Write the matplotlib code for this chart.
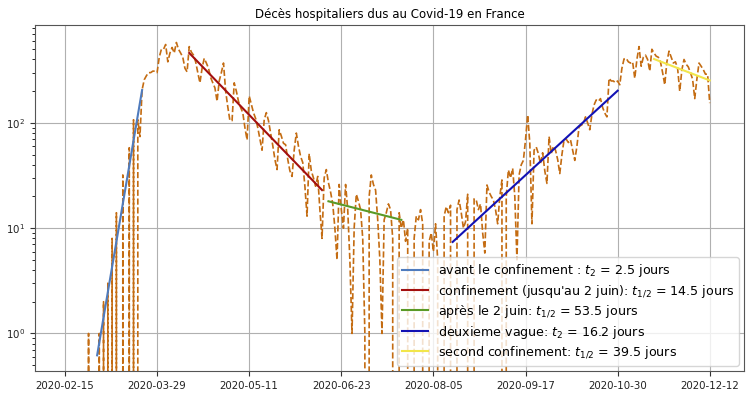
import matplotlib
matplotlib.use("Agg")
import matplotlib.pyplot as plt
import matplotlib.dates as mdates
import numpy as np
import pandas as pd

# ---- data ----
start_date = "2020-02-15"
deaths = [
    0, 0, 0, 0, 0, 0, 0, 0, 0, 0, 0,            # d0-d10
    1, 0, 0, 0, 0, 1, 0, 2, 0, 3,                # d11-d20
    0, 8, 0, 14, 0, 0, 32, 0, 0, 58,             # d21-d30
    0, 107, 0, 107, 74, 206, 257, 280, 300, 300,  # d31-d40
    310, 310, 300, 420, 500, 500, 555, 380, 460, 520,  # d41-d50
    460, 580, 500, 460, 420, 330, 305, 530, 470, 440,  # d51-d60
    380, 300, 240, 330, 410, 370, 330, 270, 240, 215,  # d61-d70
    160, 250, 300, 370, 200, 142, 105, 105, 240, 200,  # d71-d80
    160, 140, 125, 90, 69, 180, 150, 125, 110, 90,     # d81-d90
    70, 55, 107, 125, 105, 80, 61, 45, 36, 86,         # d91-d100
    75, 64, 62, 45, 35, 31, 55, 80, 60, 48,            # d101-d110
    42, 25, 13, 51, 35, 30, 25, 31, 15, 8,             # d111-d120
    30, 36, 27, 22, 17, 10, 5, 26, 15, 10,             # d121-d130
    26, 15, 5, 1, 10, 21, 18, 15, 8, 1,                # d131-d140
    0, 20, 32, 26, 23, 12, 5, 1, 12, 14,               # d141-d150
    17, 15, 8, 0, 0, 14, 10, 12, 7.5, 10,              # d151-d160
    0, 0, 8, 13, 12, 15, 11, 0, 0, 7.5,                # d161-d170
    9, 6, 11, 5, 0, 0, 13, 16, 14, 16.5,               # d171-d180
    0, 0, 15, 18.5, 14, 10, 11.5, 21, 0, 0,            # d181-d190
    19, 18.5, 15, 17, 9, 5.8, 25.7, 22, 20, 18.5,      # d191-d200
    15, 11, 20, 28.7, 0, 20, 35.7, 30, 37, 20,         # d201-d210
    5, 32, 40, 44, 69, 119, 64, 11, 55, 59,            # d211-d220
    51, 41, 52, 35, 26.6, 74, 51, 60, 55, 45,          # d221-d230
    33, 50, 69, 70, 65, 69, 55, 44, 60, 92,            # d231-d240
    95, 98, 114, 100, 86, 120, 148, 165, 160, 170,     # d241-d250
    140, 124, 114, 265, 250, 250, 240, 250, 230, 330,  # d251-d260
    405, 410, 380, 370, 380, 265, 400, 530, 345, 420,  # d261-d270
    440, 400, 310, 500, 460, 430, 420, 380, 300, 230,  # d271-d280
    380, 480, 420, 370, 380, 330, 200, 320, 400, 360,  # d281-d290
    340, 300, 260, 170, 260, 370, 345, 320, 290, 290,  # d291-d300
    154,                                               # d301
]

fit_labels = [
    r"avant le confinement : $t_2$ = 2.5 jours",
    r"confinement (jusqu'au 2 juin): $t_{1/2}$ = 14.5 jours",
    r"après le 2 juin: $t_{1/2}$ = 53.5 jours",
    r"deuxieme vague: $t_2$ = 16.2 jours",
    r"second confinement: $t_{1/2}$ = 39.5 jours",
]
fit_start = ["2020-03-01", "2020-04-13", "2020-06-17", "2020-08-14", "2020-11-16"]
fit_end = ["2020-03-22", "2020-06-14", "2020-07-21", "2020-10-30", "2020-12-12"]
fit_v0 = [0.62, 461, 18, 7.4, 404]
fit_v1 = [205, 23, 12, 202, 253]
fit_colors = ["#4f7bbd", "#a30f0f", "#5a9a26", "#1212b4", "#f2e64a"]

tick_dates = ["2020-02-15", "2020-03-29", "2020-05-11", "2020-06-23",
              "2020-08-05", "2020-09-17", "2020-10-30", "2020-12-12"]

# ---- plot ----
plt.rcParams["font.family"] = ["DejaVu Sans"]
plt.rcParams["font.size"] = 7.2

dates = pd.date_range(start_date, periods=len(deaths), freq="D")

fig = plt.figure(figsize=(7.54, 3.98), dpi=100)
ax = fig.add_axes([35 / 754, 27 / 398, 709 / 754, 346 / 398])

ax.plot(dates, deaths, linestyle="--", color="#c46c12", lw=1.2)

for lab, s, e, v0, v1, c in zip(fit_labels, fit_start, fit_end, fit_v0, fit_v1, fit_colors):
    ax.plot(pd.to_datetime([s, e]), [v0, v1], color=c, lw=1.5, label=lab)

ax.set_yscale("log")
ax.set_ylim(0.44, 850)
ax.set_xlim(pd.Timestamp("2020-02-01"), pd.Timestamp("2020-12-28"))
ax.set_xticks(pd.to_datetime(tick_dates))
ax.xaxis.set_major_formatter(mdates.DateFormatter("%Y-%m-%d"))
ax.grid(True, which="major", color="#b0b0b0", lw=0.8)
ax.tick_params(axis="both", which="major", labelsize=7.4, colors="#333333", labelcolor="#222222")
for sp in ax.spines.values():
    sp.set_color("#555555")

ax.set_title("Décès hospitaliers dus au Covid-19 en France", fontsize=8.5, pad=5)
ax.legend(loc="lower right", fontsize=9.1, framealpha=0.8, handlelength=2.0,
          labelspacing=0.3, borderaxespad=0.4)

fig.savefig("out.png", dpi=100)
